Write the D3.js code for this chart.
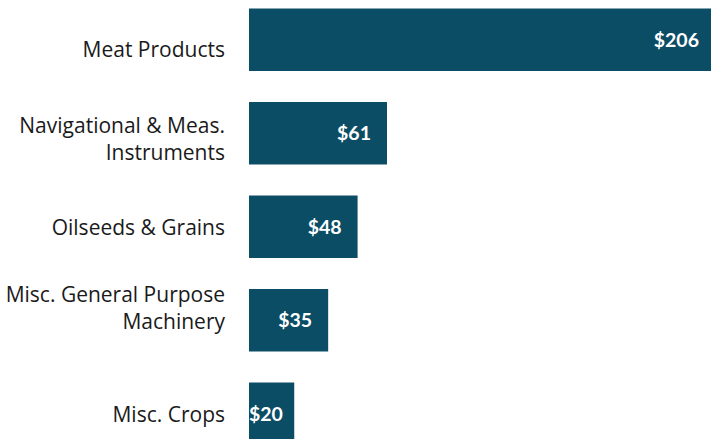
<!DOCTYPE html>
<html>
<head>
<meta charset="utf-8">
<script src="https://cdn.jsdelivr.net/npm/d3@7"></script>
<style>
  html, body { margin: 0; padding: 0; background: #ffffff; }
  svg { display: block; }
</style>
</head>
<body>
<svg id="chart" width="711" height="439"></svg>
<script>
// Categories (top to bottom), label lines and values in $ (millions)
const categories = [
  "Meat Products",
  "Navigational & Meas. Instruments",
  "Oilseeds & Grains",
  "Misc. General Purpose Machinery",
  "Misc. Crops"
];
const labelLines = [
  ["Meat Products"],
  ["Navigational & Meas.", "Instruments"],
  ["Oilseeds & Grains"],
  ["Misc. General Purpose", "Machinery"],
  ["Misc. Crops"]
];
const values = [206, 61, 48, 35, 20];
const valueLabels = ["$206", "$61", "$48", "$35", "$20"];

// Layout
const W = 711, H = 439;
const plotLeft = 249;
const barColor = "#0c4d66";
const catFont = "'Open Sans', Lato, sans-serif";
const valueFont = "Lato, 'Open Sans', sans-serif";
// vertical nudge of each category label relative to its bar centre
const labelNudge = [10, 6, 1, -12, 1];

const svg = d3.select("#chart");

const x = d3.scaleLinear()
  .domain([0, 206])
  .range([plotLeft, plotLeft + 466]);

const y = d3.scaleBand()
  .domain(categories)
  .range([-7, 460.5])
  .paddingInner(0.3316)
  .paddingOuter(0.1658);

const rows = categories.map((c, i) => ({
  cat: c, lines: labelLines[i], value: values[i], label: valueLabels[i], nudge: labelNudge[i]
}));

// Bars
svg.append("g")
  .selectAll("rect")
  .data(rows)
  .join("rect")
  .attr("x", x(0))
  .attr("y", d => y(d.cat))
  .attr("width", d => x(d.value) - x(0))
  .attr("height", y.bandwidth())
  .attr("fill", barColor);

// Category labels (right-aligned, left of the bars)
const lineH = 27;
const cats = svg.append("g")
  .selectAll("text")
  .data(rows)
  .join("text")
  .attr("text-anchor", "end")
  .attr("font-family", catFont)
  .attr("font-size", 21)
  .attr("fill", "#1a1a1a");

cats.each(function(d) {
  const t = d3.select(this);
  const cy = y(d.cat) + y.bandwidth() / 2 + d.nudge;
  const n = d.lines.length;
  d.lines.forEach((ln, j) => {
    t.append("tspan")
      .attr("x", 225)
      .attr("y", cy + (j - (n - 1) / 2) * lineH)
      .attr("dy", "0.35em")
      .text(ln);
  });
});

// Value labels inside the bar ends, kept within the plot area
const pad = 16;
svg.append("g")
  .selectAll("text")
  .data(rows)
  .join("text")
  .attr("text-anchor", "end")
  .attr("font-family", valueFont)
  .attr("font-weight", "bold")
  .attr("font-size", 19.5)
  .attr("fill", "#ffffff")
  .attr("y", d => y(d.cat) + y.bandwidth() / 2)
  .attr("dy", "0.36em")
  .text(d => d.label)
  .attr("x", function(d) {
    const w = this.getComputedTextLength();
    return Math.max(x(d.value) - pad, x(0) + w);
  });
</script>
</body>
</html>
